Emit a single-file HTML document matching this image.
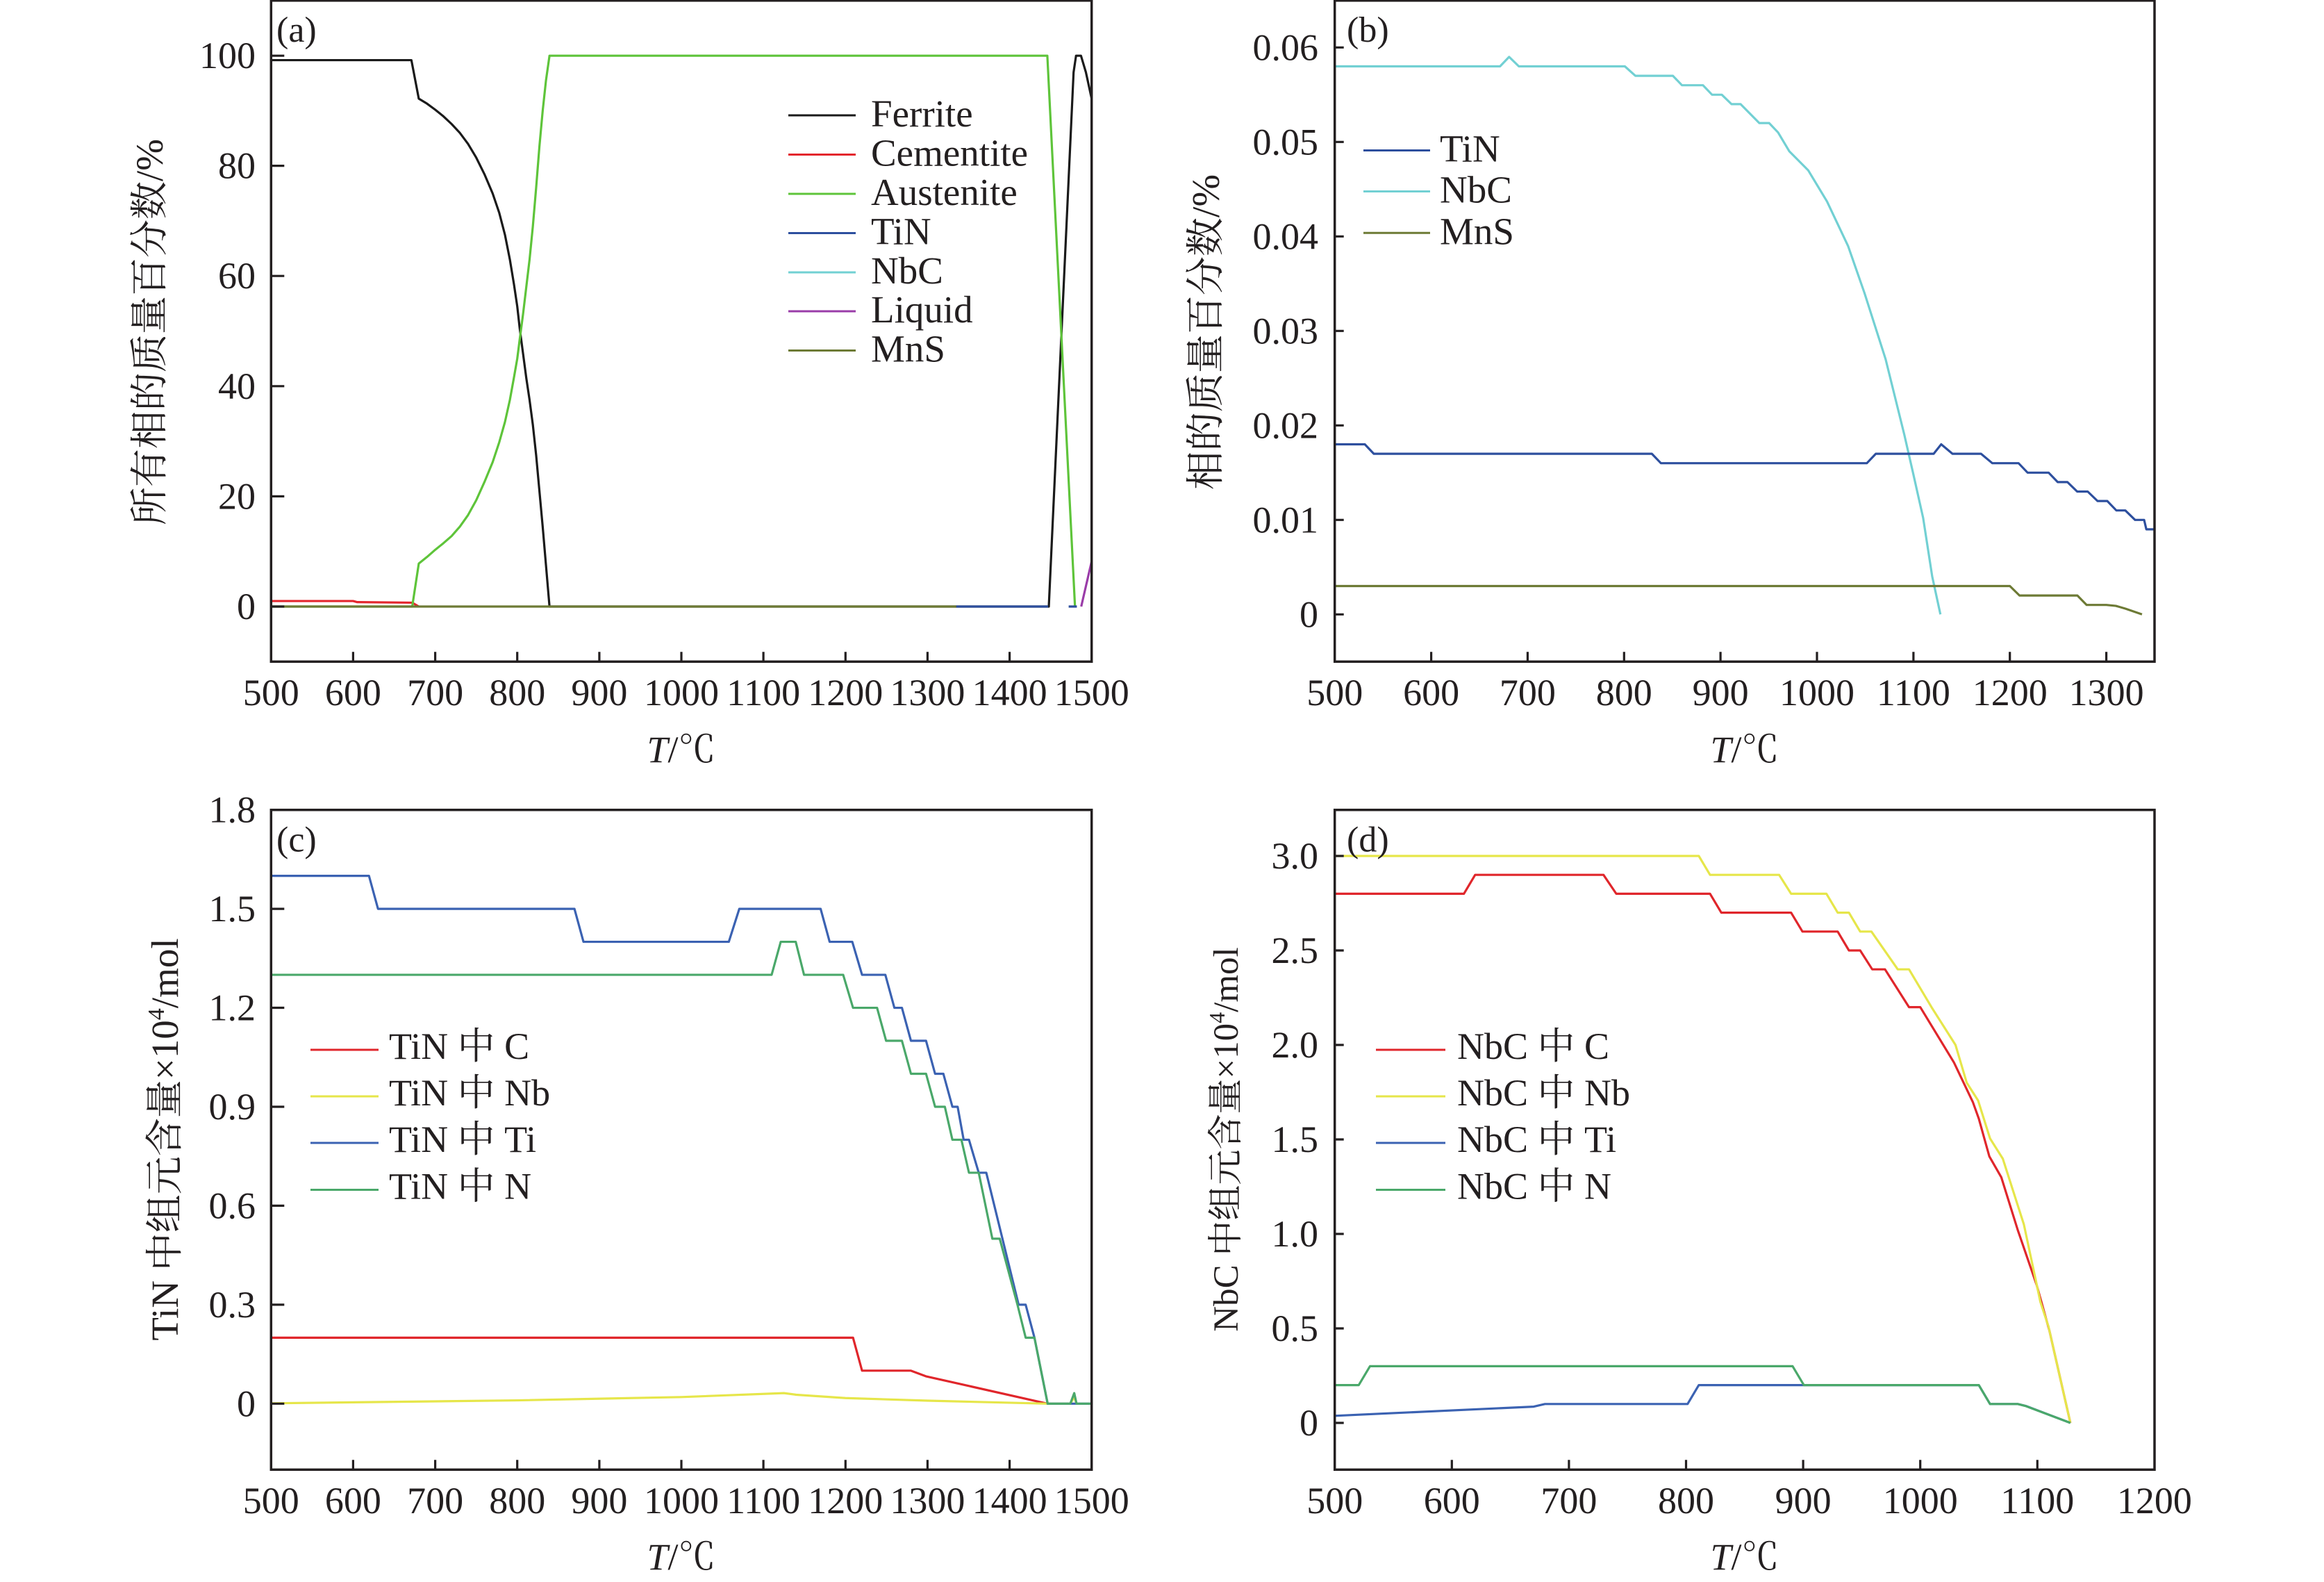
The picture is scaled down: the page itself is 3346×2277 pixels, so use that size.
<!DOCTYPE html>
<html>
<head>
<meta charset="utf-8">
<style>
html,body{margin:0;padding:0;background:#fff;}
svg{display:block;}
.t{font-family:"Liberation Serif","Noto Serif CJK SC",serif;fill:#231f20;}
.tk{font-size:54px;}
.ln{fill:none;stroke-width:3.2;stroke-linejoin:round;stroke-linecap:butt;vector-effect:non-scaling-stroke;}
.fr{fill:none;stroke:#231f20;stroke-width:3.5;}
.tick{fill:none;stroke:#231f20;stroke-width:3.2;}
.lg{stroke-width:3;}
</style>
</head>
<body>
<svg width="3346" height="2277" viewBox="0 0 3346 2277" xmlns="http://www.w3.org/2000/svg">
<rect x="0" y="0" width="3346" height="2277" fill="#ffffff"/>
<defs>
<clipPath id="ca"><rect x="390.3" y="1" width="1181.4" height="951.3"/></clipPath>
<clipPath id="cb"><rect x="1921.7" y="1" width="1180.3" height="951.3"/></clipPath>
<clipPath id="cc"><rect x="390.3" y="1165.7" width="1181.4" height="949.6"/></clipPath>
<clipPath id="cd"><rect x="1921.7" y="1165.7" width="1180.3" height="949.6"/></clipPath>
</defs>

<!-- ================= PANEL A ================= -->
<g clip-path="url(#ca)">
<g transform="matrix(1.1814 0 0 -7.928 -200.4 873)">
<polyline class="ln" stroke="#1a1a1a" points="500,99.2 671,99.2 680,92.2 690,91.3 700,90.2 710,89 720,87.6 730,86 740,84 750,81.5 760,78.5 770,75 778,71.5 785,67.5 791,63 796,58.5 800,54.5 803,50.5 807,46 811,41.5 815,37.5 819,33 823,27.5 827,21 831,14.5 835,7.5 839.3,0 1447.8,0 1478,97 1481,100 1487,100 1493,97 1500,92.2"/>
<polyline class="ln" stroke="#e3262d" points="500,1 600,1 605,0.8 672,0.7 680,0"/>
<polyline class="ln" stroke="#5ec43a" points="500,0 672,0 680,7.8 690,9 700,10.3 710,11.5 720,12.8 730,14.5 740,16.6 750,19.3 760,22.6 770,26.2 778,29.8 785,33.5 791,37.5 796,41.6 800,45 803,48.5 807,53 811,58 815,63 819,69 823,76 827,83.5 831,90 835,95.5 839.3,100 1446,100 1479.7,0"/>
<polyline class="ln" stroke="#2d4f9e" points="1335,0 1447,0"/>
<polyline class="ln" stroke="#2d4f9e" points="1472,0 1482,0"/>
<polyline class="ln" stroke="#9a3ca8" points="1487.3,0 1500,8.2 1503,10"/>
<polyline class="ln" stroke="#6d7a35" points="500,0 1335,0"/>
</g>
</g>
<rect class="fr" x="390.3" y="0.8" width="1181.4" height="951.5"/>
<path class="tick" d="M390.3 873h19M390.3 714.4h19M390.3 555.8h19M390.3 397.2h19M390.3 238.6h19M390.3 80.2h19
M508.4 952.3v-14M626.6 952.3v-14M744.7 952.3v-14M862.9 952.3v-14M981 952.3v-14M1099.1 952.3v-14M1217.3 952.3v-14M1335.4 952.3v-14M1453.6 952.3v-14"/>
<g class="t tk" text-anchor="end">
<text x="368" y="891">0</text>
<text x="368" y="732.4">20</text>
<text x="368" y="573.8">40</text>
<text x="368" y="415.2">60</text>
<text x="368" y="256.6">80</text>
<text x="368" y="98.2">100</text>
</g>
<g class="t tk" text-anchor="middle">
<text x="390.3" y="1015">500</text>
<text x="508.4" y="1015">600</text>
<text x="626.6" y="1015">700</text>
<text x="744.7" y="1015">800</text>
<text x="862.9" y="1015">900</text>
<text x="981" y="1015">1000</text>
<text x="1099.1" y="1015">1100</text>
<text x="1217.3" y="1015">1200</text>
<text x="1335.4" y="1015">1300</text>
<text x="1453.6" y="1015">1400</text>
<text x="1571.7" y="1015">1500</text>
</g>
<text class="t" x="398" y="60" font-size="52">(a)</text>
<text class="t" x="981" y="1097" font-size="54" text-anchor="middle"><tspan font-style="italic">T</tspan>/℃</text>
<text class="t" font-size="55" text-anchor="middle" transform="translate(234,478) rotate(-90)">所有相的质量百分数/%</text>
<!-- legend a -->
<g class="lg">
<line x1="1135" y1="166" x2="1232" y2="166" stroke="#1a1a1a"/>
<line x1="1135" y1="222.5" x2="1232" y2="222.5" stroke="#e3262d"/>
<line x1="1135" y1="279" x2="1232" y2="279" stroke="#5ec43a"/>
<line x1="1135" y1="335.5" x2="1232" y2="335.5" stroke="#2d4f9e"/>
<line x1="1135" y1="392" x2="1232" y2="392" stroke="#72d0d3"/>
<line x1="1135" y1="448" x2="1232" y2="448" stroke="#9a3ca8"/>
<line x1="1135" y1="504.5" x2="1232" y2="504.5" stroke="#6d7a35"/>
</g>
<g class="t" font-size="55">
<text x="1254" y="182">Ferrite</text>
<text x="1254" y="238.5">Cementite</text>
<text x="1254" y="295">Austenite</text>
<text x="1254" y="351.5">TiN</text>
<text x="1254" y="408">NbC</text>
<text x="1254" y="464">Liquid</text>
<text x="1254" y="520.5">MnS</text>
</g>

<!-- ================= PANEL B ================= -->
<g clip-path="url(#cb)">
<g transform="matrix(1.3886 0 0 -13.6 1227.4 884.3)">
<polyline class="ln" stroke="#72d0d3" points="500,58 671.4,58 680.8,59 690.9,58 800.8,58 811.7,57 850.6,57 860,56 881.8,56 891.2,55 901.3,55 911.4,54 920.8,54 940.2,52 950.4,52 959.7,51 971.4,49 990.9,47 1010.4,43.7 1032.2,39 1049.3,34 1071.2,27 1090.6,19 1100,14.8 1110.1,10.2 1119.5,4 1128,0"/>
<polyline class="ln" stroke="#2d4f9e" points="500,18 531.2,18 540.5,17 828.8,17 838.2,16 1051.7,16 1061,17 1121,17 1128.8,18 1140.5,17 1170.1,17 1181.8,16 1209,16 1218.4,15 1240.2,15 1249.6,14 1259.7,14 1269.8,13 1280.7,13 1290.9,12 1301,12 1310.4,11 1319.7,11 1329.8,10 1339.2,10 1341.5,9 1352,9"/>
<polyline class="ln" stroke="#6d7a35" points="500,3 1200,3 1210,2 1270,2 1279.6,1 1300,1 1310,0.9 1320,0.6 1337,0"/>
</g>
</g>
<rect class="fr" x="1921.7" y="0.8" width="1180.3" height="951.5"/>
<path class="tick" d="M1921.7 884.3h13M1921.7 748.3h13M1921.7 612.3h13M1921.7 476.3h13M1921.7 340.3h13M1921.7 204.3h13M1921.7 68.3h13
M2060.6 952.3v-14M2199.4 952.3v-14M2338.3 952.3v-14M2477.1 952.3v-14M2616 952.3v-14M2754.9 952.3v-14M2893.7 952.3v-14M3032.6 952.3v-14"/>
<g class="t tk" text-anchor="end">
<text x="1898" y="902.3">0</text>
<text x="1898" y="766.3">0.01</text>
<text x="1898" y="630.3">0.02</text>
<text x="1898" y="494.3">0.03</text>
<text x="1898" y="358.3">0.04</text>
<text x="1898" y="222.3">0.05</text>
<text x="1898" y="86.3">0.06</text>
</g>
<g class="t tk" text-anchor="middle">
<text x="1921.7" y="1015">500</text>
<text x="2060.6" y="1015">600</text>
<text x="2199.4" y="1015">700</text>
<text x="2338.3" y="1015">800</text>
<text x="2477.1" y="1015">900</text>
<text x="2616" y="1015">1000</text>
<text x="2754.9" y="1015">1100</text>
<text x="2893.7" y="1015">1200</text>
<text x="3032.6" y="1015">1300</text>
</g>
<text class="t" x="1939" y="60" font-size="52">(b)</text>
<text class="t" x="2512" y="1097" font-size="54" text-anchor="middle"><tspan font-style="italic">T</tspan>/℃</text>
<text class="t" font-size="56" text-anchor="middle" transform="translate(1755,478) rotate(-90)">相的质量百分数/%</text>
<g class="lg">
<line x1="1963" y1="216.5" x2="2059" y2="216.5" stroke="#2d4f9e"/>
<line x1="1963" y1="275.5" x2="2059" y2="275.5" stroke="#72d0d3"/>
<line x1="1963" y1="335.3" x2="2059" y2="335.3" stroke="#6d7a35"/>
</g>
<g class="t" font-size="55">
<text x="2073" y="232.5">TiN</text>
<text x="2073" y="291.5">NbC</text>
<text x="2073" y="351.3">MnS</text>
</g>

<!-- ================= PANEL C ================= -->
<g clip-path="url(#cc)">
<g transform="matrix(1.1814 0 0 -474.8 -200.4 2020.3)">
<polyline class="ln" stroke="#e0262b" points="500,0.2 1209.2,0.2 1220.2,0.1 1279.8,0.1 1298,0.083 1446,0"/>
<polyline class="ln" stroke="#e6e64a" points="500,0.001 800,0.01 1000,0.02 1125,0.032 1140,0.027 1200,0.017 1300,0.009 1446,0 1474,0 1478.8,0.02 1481.6,0"/>
<polyline class="ln" stroke="#3b62b2" points="500,1.6 619.3,1.6 630.3,1.5 869.7,1.5 880.7,1.4 1057.8,1.4 1070.6,1.5 1169.7,1.5 1180.7,1.4 1208.3,1.4 1220.2,1.3 1248.6,1.3 1259.6,1.2 1268.8,1.2 1279.8,1.1 1298.2,1.1 1309.2,1.0 1319.3,1.0 1330.3,0.9 1336.7,0.9 1344,0.8 1350.5,0.8 1362.4,0.7 1371.6,0.7 1411,0.3 1419.6,0.3 1430.3,0.2 1446.4,0 1500,0"/>
<polyline class="ln" stroke="#4aa86a" points="500,1.3 1110,1.3 1121.1,1.4 1139.4,1.4 1149.5,1.3 1197.2,1.3 1209.2,1.2 1238.5,1.2 1249.5,1.1 1268.8,1.1 1279.8,1.0 1298.2,1.0 1309.2,0.9 1321.1,0.9 1330.3,0.8 1341.3,0.8 1350.5,0.7 1362.4,0.7 1379,0.5 1388,0.5 1409.6,0.3 1419.6,0.2 1430.3,0.2 1446.4,0 1474,0 1478.8,0.032 1481.6,0 1502,0"/>
</g>
</g>
<rect class="fr" x="390.3" y="1165.7" width="1181.4" height="949.6"/>
<path class="tick" d="M390.3 2020.3h19M390.3 1877.9h19M390.3 1735.4h19M390.3 1593h19M390.3 1450.5h19M390.3 1308.1h19
M508.4 2115.3v-14M626.6 2115.3v-14M744.7 2115.3v-14M862.9 2115.3v-14M981 2115.3v-14M1099.1 2115.3v-14M1217.3 2115.3v-14M1335.4 2115.3v-14M1453.6 2115.3v-14"/>
<g class="t tk" text-anchor="end">
<text x="368" y="2038.3">0</text>
<text x="368" y="1895.9">0.3</text>
<text x="368" y="1753.4">0.6</text>
<text x="368" y="1611">0.9</text>
<text x="368" y="1468.5">1.2</text>
<text x="368" y="1326.1">1.5</text>
<text x="368" y="1183.7">1.8</text>
</g>
<g class="t tk" text-anchor="middle">
<text x="390.3" y="2178">500</text>
<text x="508.4" y="2178">600</text>
<text x="626.6" y="2178">700</text>
<text x="744.7" y="2178">800</text>
<text x="862.9" y="2178">900</text>
<text x="981" y="2178">1000</text>
<text x="1099.1" y="2178">1100</text>
<text x="1217.3" y="2178">1200</text>
<text x="1335.4" y="2178">1300</text>
<text x="1453.6" y="2178">1400</text>
<text x="1571.7" y="2178">1500</text>
</g>
<text class="t" x="398" y="1225.5" font-size="52">(c)</text>
<text class="t" x="981" y="2259" font-size="54" text-anchor="middle"><tspan font-style="italic">T</tspan>/℃</text>
<text class="t" font-size="55" text-anchor="middle" transform="translate(256,1640) rotate(-90)">TiN 中组元含量×10<tspan font-size="34" dy="-20">4</tspan><tspan dy="20">/mol</tspan></text>
<g class="lg">
<line x1="447" y1="1511" x2="545" y2="1511" stroke="#e0262b"/>
<line x1="447" y1="1578" x2="545" y2="1578" stroke="#e6e64a"/>
<line x1="447" y1="1645" x2="545" y2="1645" stroke="#3b62b2"/>
<line x1="447" y1="1712.5" x2="545" y2="1712.5" stroke="#4aa86a"/>
</g>
<g class="t" font-size="54">
<text x="560" y="1524">TiN 中 C</text>
<text x="560" y="1591">TiN 中 Nb</text>
<text x="560" y="1658">TiN 中 Ti</text>
<text x="560" y="1725.5">TiN 中 N</text>
</g>

<!-- ================= PANEL D ================= -->
<g clip-path="url(#cd)">
<g transform="matrix(1.686 0 0 -272 1078.7 2048)">
<polyline class="ln" stroke="#e0262b" points="500,2.8 610.3,2.8 619.9,2.9 729.5,2.9 740.4,2.8 820.5,2.8 830.1,2.7 889.7,2.7 899.4,2.6 929.5,2.6 939.1,2.5 948.7,2.5 959,2.4 969.9,2.4 990.4,2.2 1000,2.2 1028.8,1.907 1044.9,1.698 1050,1.61 1059,1.41 1069.2,1.30 1083.3,1.02 1099.4,0.73 1110.3,0.488 1128.2,0"/>
<polyline class="ln" stroke="#e6e64a" points="500,3.0 810.9,3.0 820.5,2.9 879.5,2.9 889.7,2.8 919.9,2.8 929.5,2.7 939.1,2.7 948.7,2.6 958.3,2.6 980.8,2.4 990.4,2.4 1009.6,2.2 1030.1,2.0 1039.7,1.8 1049.4,1.706 1059.6,1.505 1070.5,1.398 1088.5,1.05 1102.6,0.64 1109.5,0.51 1128.2,0"/>
<polyline class="ln" stroke="#3b62b2" points="500,0.0375 669.9,0.086 679.5,0.1 801.3,0.1 810.9,0.2 1050,0.2 1059.6,0.1 1083.3,0.1 1090,0.09 1128.2,0"/>
<polyline class="ln" stroke="#4aa86a" points="500,0.2 520.5,0.2 530.1,0.3 891,0.3 900.6,0.2 1050,0.2 1059.6,0.1 1083.3,0.1 1089.7,0.09 1128.2,0"/>
</g>
</g>
<rect class="fr" x="1921.7" y="1165.7" width="1180.3" height="949.6"/>
<path class="tick" d="M1921.7 2048h13M1921.7 1912h13M1921.7 1776h13M1921.7 1640h13M1921.7 1504h13M1921.7 1368h13M1921.7 1232h13
M2090.3 2115.3v-14M2258.9 2115.3v-14M2427.5 2115.3v-14M2596.1 2115.3v-14M2764.7 2115.3v-14M2933.3 2115.3v-14"/>
<g class="t tk" text-anchor="end">
<text x="1898" y="2066">0</text>
<text x="1898" y="1930">0.5</text>
<text x="1898" y="1794">1.0</text>
<text x="1898" y="1658">1.5</text>
<text x="1898" y="1522">2.0</text>
<text x="1898" y="1386">2.5</text>
<text x="1898" y="1250">3.0</text>
</g>
<g class="t tk" text-anchor="middle">
<text x="1921.7" y="2178">500</text>
<text x="2090.3" y="2178">600</text>
<text x="2258.9" y="2178">700</text>
<text x="2427.5" y="2178">800</text>
<text x="2596.1" y="2178">900</text>
<text x="2764.7" y="2178">1000</text>
<text x="2933.3" y="2178">1100</text>
<text x="3101.9" y="2178">1200</text>
</g>
<text class="t" x="1939" y="1225.5" font-size="52">(d)</text>
<text class="t" x="2512" y="2259" font-size="54" text-anchor="middle"><tspan font-style="italic">T</tspan>/℃</text>
<text class="t" font-size="51" text-anchor="middle" transform="translate(1782,1640) rotate(-90)">NbC 中组元含量×10<tspan font-size="32" dy="-19">4</tspan><tspan dy="19">/mol</tspan></text>
<g class="lg">
<line x1="1981" y1="1511" x2="2081" y2="1511" stroke="#e0262b"/>
<line x1="1981" y1="1578" x2="2081" y2="1578" stroke="#e6e64a"/>
<line x1="1981" y1="1645" x2="2081" y2="1645" stroke="#3b62b2"/>
<line x1="1981" y1="1712.5" x2="2081" y2="1712.5" stroke="#4aa86a"/>
</g>
<g class="t" font-size="54">
<text x="2098" y="1524">NbC 中 C</text>
<text x="2098" y="1591">NbC 中 Nb</text>
<text x="2098" y="1658">NbC 中 Ti</text>
<text x="2098" y="1725.5">NbC 中 N</text>
</g>
</svg>
</body>
</html>
